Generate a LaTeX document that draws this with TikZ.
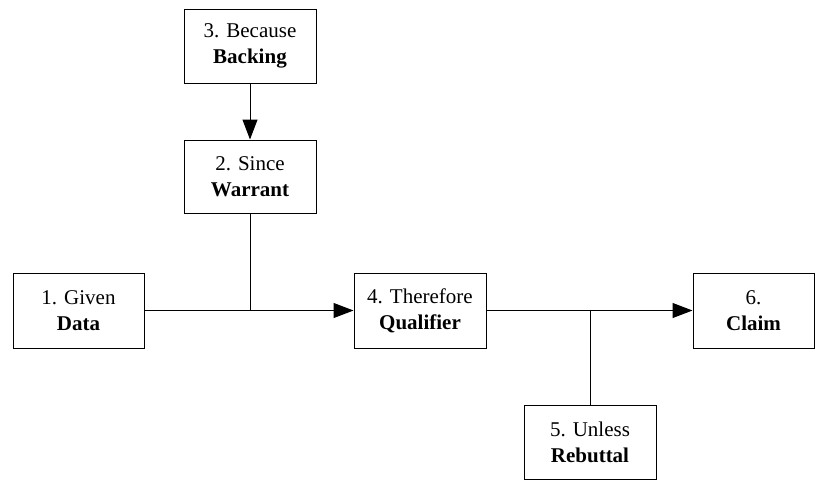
\documentclass[tikz,border=0pt]{standalone}
\usepackage{fontspec}
\setmainfont{Liberation Serif}
\usetikzlibrary{arrows.meta}
\begin{document}
\begin{tikzpicture}[x=1pt,y=-1pt,
  box/.style={draw,line width=1pt,inner sep=0pt,minimum width=132pt,minimum height=74pt,align=center,font=\fontsize{21}{26}\selectfont},
  conn/.style={line width=1pt},
  arr/.style={conn,-{Triangle[length=20pt,width=15pt]}}]
\useasboundingbox (0,0) rectangle (815,480);
\node[box] (b3) at (250,46) {3. Because\\\textbf{Backing}};
\node[box,minimum height=73pt] (b2) at (250,176.5) {2. Since\\\textbf{Warrant}};
\node[box,minimum width=131pt,minimum height=75pt] (b1) at (78.5,310.5) {1. Given\\\textbf{Data}};
\node[box,minimum height=75pt] (b4) at (420,310.5) {4. Therefore\\\textbf{Qualifier}};
\node[box,minimum width=121pt,minimum height=75pt] (b6) at (753.5,310.5) {6.\\\textbf{Claim}};
\node[box] (b5) at (590,442) {5. Unless\\\textbf{Rebuttal}};
\coordinate (j1) at (b2.south |- b1.east);
\coordinate (j2) at (b5.north |- b4.east);
\draw[arr] (b3) -- (b2);
\draw[arr] (b1) -- (b4);
\draw[conn] (b2.south) -- (j1);
\draw[arr] (b4) -- (b6);
\draw[conn] (b5.north) -- (j2);
\end{tikzpicture}
\end{document}
